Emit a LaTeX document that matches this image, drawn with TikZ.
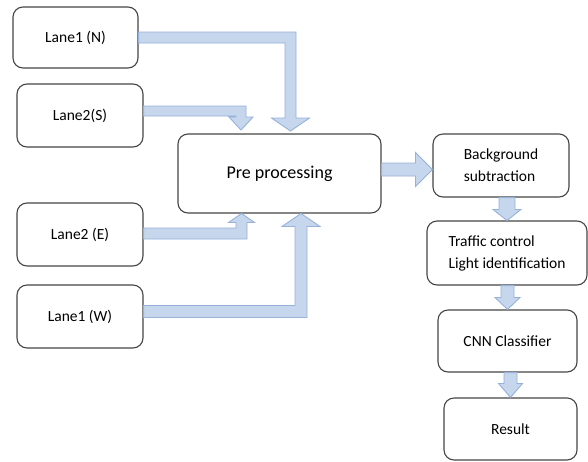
\documentclass[tikz,border=0pt]{standalone}
\usepackage{fontspec}
\setmainfont{Carlito}
\usetikzlibrary{calc}
\definecolor{arrfill}{RGB}{198,215,237}
\definecolor{arredge}{RGB}{150,178,216}
\definecolor{boxedge}{RGB}{70,70,70}
\tikzset{
  box/.style={draw=boxedge, line width=1.1pt, rounded corners=10pt, fill=white,
    font=\fontsize{15.5}{22}\selectfont, align=center, inner sep=0pt},
  blk/.style={fill=arrfill, draw=arredge, line width=0.9pt, line join=miter}
}
% L-shaped arrow, horizontal from #1 then down to tip #2 ; #3 shaft half width, #4 head half width, #5 head length
\newcommand\LDown[5]{\path[blk] let \p1=(#1), \p2=(#2) in
  (\x1,\y1+#3) -- (\x2+#3,\y1+#3) -- (\x2+#3,\y2+#5) -- (\x2+#4,\y2+#5) -- (\x2,\y2)
  -- (\x2-#4,\y2+#5) -- (\x2-#3,\y2+#5) -- (\x2-#3,\y1-#3) -- (\x1,\y1-#3) -- cycle;}
\newcommand\LUp[5]{\path[blk] let \p1=(#1), \p2=(#2) in
  (\x1,\y1-#3) -- (\x2+#3,\y1-#3) -- (\x2+#3,\y2-#5) -- (\x2+#4,\y2-#5) -- (\x2,\y2)
  -- (\x2-#4,\y2-#5) -- (\x2-#3,\y2-#5) -- (\x2-#3,\y1+#3) -- (\x1,\y1+#3) -- cycle;}
\newcommand\VDown[5]{\path[blk] let \p1=(#1), \p2=(#2) in
  (\x2-#3,\y1) -- (\x2+#3,\y1) -- (\x2+#3,\y2+#5) -- (\x2+#4,\y2+#5) -- (\x2,\y2)
  -- (\x2-#4,\y2+#5) -- (\x2-#3,\y2+#5) -- cycle;}
\newcommand\HRight[5]{\path[blk] let \p1=(#1), \p2=(#2) in
  (\x1,\y2+#3) -- (\x2-#5,\y2+#3) -- (\x2-#5,\y2+#4) -- (\x2,\y2)
  -- (\x2-#5,\y2-#4) -- (\x2-#5,\y2-#3) -- (\x1,\y2-#3) -- cycle;}
\begin{document}
\begin{tikzpicture}[x=1pt,y=-1pt]
\useasboundingbox (0,0) rectangle (588,461);
\fill[white] (0,0) rectangle (588,461);

\node[box, minimum width=125pt, minimum height=61pt] (ln) at (75.5,37.5) {Lane1 (N)};
\node[box, minimum width=126pt, minimum height=63pt] (ls) at (80,115.5) {Lane2(S)};
\node[box, minimum width=126pt, minimum height=63pt] (le) at (80,234.5) {Lane2 (E)};
\node[box, minimum width=126pt, minimum height=63pt] (lw) at (80,316.5) {Lane1 (W)};
\node[box, minimum width=203pt, minimum height=79pt, font=\fontsize{18}{22}\selectfont] (pre) at (279.5,173.5) {Pre processing};
\node[box, minimum width=136pt, minimum height=63pt, align=left] (bg) at (501,165.5) {Background\\subtraction};
\node[box, minimum width=160pt, minimum height=64pt, align=left] (tr) at (507,253) {\raisebox{-3pt}{Traffic control}\\\raisebox{-3pt}{Light identification}};
\node[box, minimum width=139pt, minimum height=62pt] (cnn) at (507.5,341) {CNN Classifier};
\node[box, minimum width=133pt, minimum height=62pt] (res) at (510.5,429) {Result};

% connector end points
\coordinate (sN) at (ln.east);
\coordinate (tN) at (290.5,131);
\coordinate (sS) at ($(ls.east)+(0,-4.5)$);
\coordinate (tS) at (241,130);
\coordinate (sE) at ($(le.east)+(0,-1)$);
\coordinate (tE) at (241.5,213.5);
\coordinate (sW) at ($(lw.east)+(0,-5)$);
\coordinate (tW) at (301,213.5);
\coordinate (tB) at ($(bg.west)+(0,4)$);

\LDown{sN}{tN}{5.5pt}{19pt}{13pt}
\LDown{sS}{tS}{5pt}{12pt}{13pt}
\LUp{sE}{tE}{5.5pt}{13pt}{9pt}
\LUp{sW}{tW}{6pt}{19pt}{13pt}
\HRight{pre.east}{tB}{6.5pt}{17pt}{17pt}
\VDown{bg.south}{tr.north}{8pt}{14pt}{11pt}
\VDown{tr.south}{cnn.north}{6.5pt}{12.5pt}{12pt}
\VDown{cnn.south}{res.north}{6.5pt}{12pt}{14pt}
\end{tikzpicture}
\end{document}
